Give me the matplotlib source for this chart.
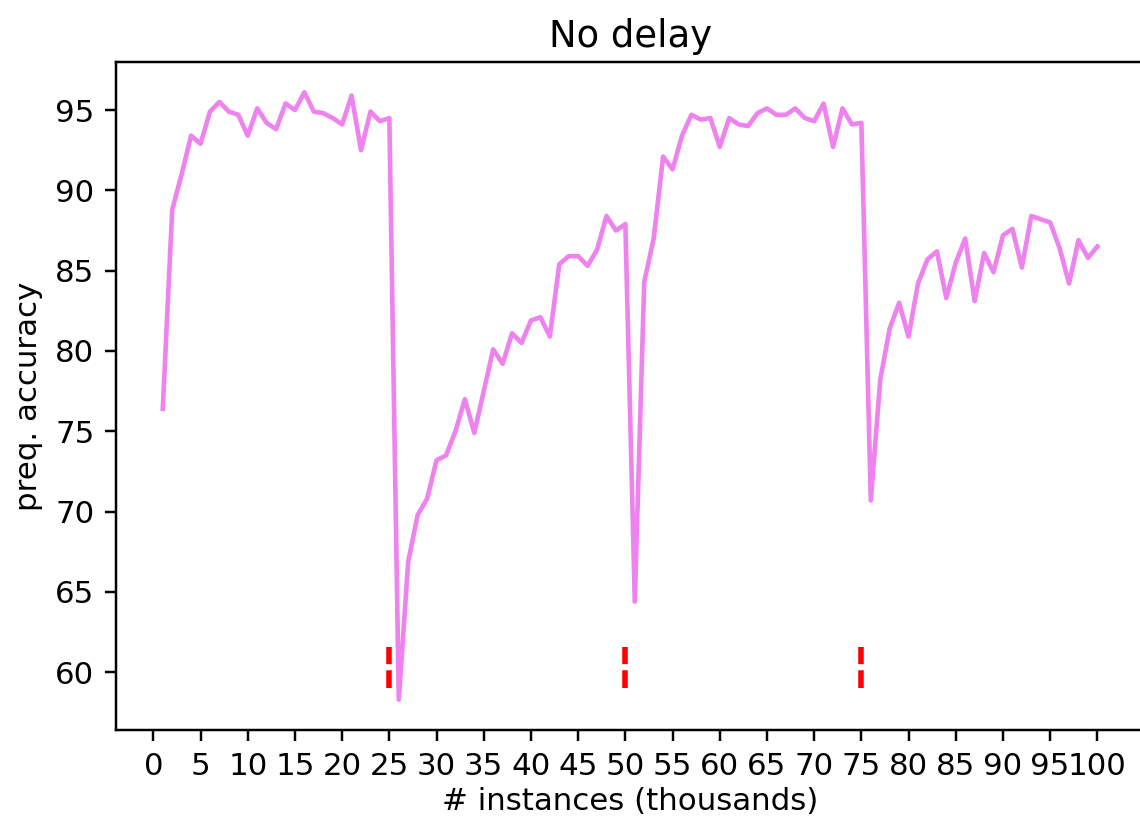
import numpy as np
import matplotlib
matplotlib.use("Agg")
import matplotlib.pyplot as plt

# prequential accuracy per 1000 instances, no label delay
instances = np.arange(1, 101)
accuracy = [
    76.4, 88.8, 91.0, 93.4, 92.9, 94.9, 95.5, 94.9, 94.7, 93.4,
    95.1, 94.2, 93.8, 95.4, 95.0, 96.1, 94.9, 94.8, 94.5, 94.1,
    95.9, 92.5, 94.9, 94.3, 94.5, 58.3, 66.9, 69.8, 70.8, 73.2,
    73.5, 75.0, 77.0, 74.9, 77.5, 80.1, 79.2, 81.1, 80.5, 81.9,
    82.1, 80.9, 85.4, 85.9, 85.9, 85.3, 86.3, 88.4, 87.5, 87.9,
    64.4, 84.3, 87.0, 92.1, 91.3, 93.4, 94.7, 94.4, 94.5, 92.7,
    94.5, 94.1, 94.0, 94.8, 95.1, 94.7, 94.7, 95.1, 94.5, 94.3,
    95.4, 92.7, 95.1, 94.1, 94.2, 70.7, 78.2, 81.4, 83.0, 80.9,
    84.2, 85.7, 86.2, 83.3, 85.5, 87.0, 83.1, 86.1, 84.9, 87.2,
    87.6, 85.2, 88.4, 88.2, 88.0, 86.4, 84.2, 86.9, 85.8, 86.5,
]
# concept drift markers
drift_points = [25, 50, 75]
drift_ymin, drift_ymax = 59.0, 61.6

dpi = 222
fig = plt.figure(figsize=(1140 / dpi, 824 / dpi), dpi=dpi)
ax = fig.add_axes([0.1018, 0.1141, 0.9018, 0.8107])

ax.plot(instances, accuracy, color="violet")
ax.vlines(drift_points, drift_ymin, drift_ymax, colors="red",
          linestyles=(0, (3.2, 1.1)), linewidth=1.8)

ax.set_xticks(np.arange(0, 101, 5))
ax.set_title("No delay", pad=5)
ax.set_xlabel("# instances (thousands)", labelpad=2)
ax.set_ylabel("preq. accuracy")

fig.savefig("out.png", dpi=dpi)
